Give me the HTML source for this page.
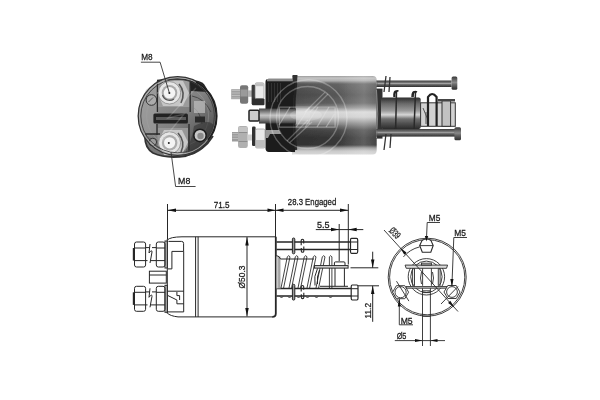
<!DOCTYPE html>
<html><head><meta charset="utf-8">
<style>
html,body{margin:0;padding:0;background:#fff;width:600px;height:400px;overflow:hidden}
svg{display:block;position:absolute;left:0;top:0}
text{font-family:"Liberation Sans",sans-serif;fill:#1a1a1a;stroke:#1a1a1a;stroke-width:1.1}
svg{will-change:transform}
</style></head>
<body>
<svg width="600" height="400" viewBox="0 0 600 400">
<defs>
<marker id="ah" viewBox="0 0 8 3" refX="8" refY="1.5" markerWidth="8" markerHeight="3" markerUnits="userSpaceOnUse" orient="auto-start-reverse"><path d="M0,0 L8,1.5 L0,3 z" fill="#111"/></marker>
</defs>

<!-- ============ PHOTO ============ -->
<defs>
  <linearGradient id="cyl" x1="0" y1="0" x2="0" y2="1">
    <stop offset="0" stop-color="#9a9a9a"/>
    <stop offset="0.027" stop-color="#c4c4c4"/>
    <stop offset="0.059" stop-color="#b0b0b0"/>
    <stop offset="0.103" stop-color="#686868"/>
    <stop offset="0.243" stop-color="#5a5a5a"/>
    <stop offset="0.345" stop-color="#666"/>
    <stop offset="0.408" stop-color="#9a9a9a"/>
    <stop offset="0.459" stop-color="#d8d8d8"/>
    <stop offset="0.523" stop-color="#d0d0d0"/>
    <stop offset="0.612" stop-color="#888"/>
    <stop offset="0.688" stop-color="#4e4e4e"/>
    <stop offset="0.79" stop-color="#3a3a3a"/>
    <stop offset="0.879" stop-color="#3c3c3c"/>
    <stop offset="0.917" stop-color="#9a9a9a"/>
    <stop offset="0.955" stop-color="#cacaca"/>
    <stop offset="1" stop-color="#d8d8d8"/>
  </linearGradient>
  <linearGradient id="cylh" x1="0" y1="0" x2="1" y2="0">
    <stop offset="0" stop-color="#fff" stop-opacity="0"/>
    <stop offset="0.55" stop-color="#fff" stop-opacity="0"/>
    <stop offset="0.85" stop-color="#fff" stop-opacity="0.18"/>
    <stop offset="1" stop-color="#fff" stop-opacity="0.05"/>
  </linearGradient>
  <linearGradient id="plg" x1="0" y1="0" x2="0" y2="1">
    <stop offset="0" stop-color="#2e2e2e"/>
    <stop offset="0.2" stop-color="#6a6a6a"/>
    <stop offset="0.42" stop-color="#9a9a9a"/>
    <stop offset="0.55" stop-color="#d6d6d6"/>
    <stop offset="0.68" stop-color="#707070"/>
    <stop offset="1" stop-color="#2a2a2a"/>
  </linearGradient>
  <linearGradient id="bolt" x1="0" y1="0" x2="0" y2="1">
    <stop offset="0" stop-color="#3a3a3a"/>
    <stop offset="0.45" stop-color="#8a8a8a"/>
    <stop offset="0.6" stop-color="#6a6a6a"/>
    <stop offset="1" stop-color="#2e2e2e"/>
  </linearGradient>
  <linearGradient id="stud" x1="0" y1="0" x2="0" y2="1">
    <stop offset="0" stop-color="#444"/>
    <stop offset="0.45" stop-color="#c4c4c4"/>
    <stop offset="0.6" stop-color="#aaa"/>
    <stop offset="1" stop-color="#3a3a3a"/>
  </linearGradient>
  <linearGradient id="endg" x1="0.15" y1="0.2" x2="0.85" y2="0.9">
    <stop offset="0" stop-color="#959595"/>
    <stop offset="0.5" stop-color="#808080"/>
    <stop offset="1" stop-color="#4e4e4e"/>
  </linearGradient>
  <linearGradient id="shl" x1="0" y1="0" x2="1" y2="0">
    <stop offset="0" stop-color="#000" stop-opacity="0.2"/>
    <stop offset="0.5" stop-color="#000" stop-opacity="0.1"/>
    <stop offset="1" stop-color="#000" stop-opacity="0"/>
  </linearGradient>
  <filter id="soft" x="-5%" y="-5%" width="110%" height="110%"><feGaussianBlur stdDeviation="0.4"/></filter>
</defs>
<g filter="url(#soft)">
<g id="endview">
  <circle cx="177.6" cy="116" r="39.2" fill="url(#endg)"/>
  <circle cx="177.6" cy="116" r="31" fill="none" stroke="#aaa" stroke-width="0.9" opacity="0.4"/>
  <!-- terminal plates -->
  <path d="M157.4,81 L146,90 Q139,102 139.5,118 Q140,128 145,136 L157.4,134 z" fill="#a0a0a0" opacity="0.55"/>
  <path d="M158,81 Q174,78.5 189.5,81 V107 H158z" fill="#9c9c9c"/>
  <path d="M157.5,128 H188 V154 Q174,157 157.5,154z" fill="#979797"/>
  <!-- housing verticals -->
  <path d="M157.4,81 V112 M157,124 V135 M145,134 H160 M190.2,81 V112 M189,124 V150" fill="none" stroke="#2a2a2a" stroke-width="1.3"/>
  <path d="M157,80.5 Q176,77.5 191,80.5" fill="none" stroke="#2a2a2a" stroke-width="1.6"/>
  <!-- top right dark patch -->
  <path d="M190,81 Q199,79 204,84 Q207,88 208,92 L191,91 z" fill="#222"/>
  <!-- right side details -->
  <path d="M192,96 Q204,98 211,112 M194,108 Q200,112 202,124" fill="none" stroke="#4a4a4a" stroke-width="1"/>
  <rect x="194" y="101" width="11" height="12" fill="#c0c0c0" opacity="0.7"/>
  <rect x="195" y="116.5" width="10" height="6" fill="#2a2a2a"/>
  <!-- slot -->
  <rect x="153.4" y="113.5" width="34.5" height="10" rx="1.5" fill="#222"/>
  <rect x="156" y="117" width="30" height="3" fill="#5a5a5a"/>
  <!-- dark bottom-right region -->
  <path d="M184,152 Q192,142 194,126 Q210,118 214,126 Q212,142 200,151 Q192,156 184,156z" fill="#2e2e2e" opacity="0.55"/>
  <!-- upper washer -->
  <path d="M163,81 H183 L189,93 L183,106 H163 L157.5,93z" fill="#c6c6c6"/>
  <path d="M179,84 Q186,92 181,103" fill="none" stroke="#555" stroke-width="1.6"/>
  <circle cx="169.5" cy="92.8" r="11.2" fill="#e6e6e6" stroke="#888" stroke-width="0.8"/>
  <circle cx="169.5" cy="92.8" r="7.8" fill="#a8a8a8"/>
  <path d="M162.5,95 A7.5,7.5 0 0 0 174,99" fill="none" stroke="#555" stroke-width="1.2"/>
  <circle cx="169.5" cy="92.8" r="5.8" fill="#f4f4f4"/>
  <circle cx="169.4" cy="93.1" r="1" fill="#222"/>
  <!-- lower washer -->
  <path d="M145,135 Q144,148 153,153 Q166,159 186,156 L186,150 L152,138z" fill="#777"/>
  <path d="M164,130 H182 L188,142 L182,155 H164 L158,142z" fill="#c8c8c8"/>
  <path d="M178,133 Q186,142 181,152" fill="none" stroke="#555" stroke-width="1.6"/>
  <circle cx="169.6" cy="142.8" r="11" fill="#e4e4e4" stroke="#888" stroke-width="0.8"/>
  <circle cx="169.6" cy="142.8" r="7.8" fill="#acacac"/>
  <circle cx="169.6" cy="142.8" r="5.6" fill="#f4f4f4"/>
  <circle cx="168.8" cy="143" r="1" fill="#222"/>
  <!-- small screws -->
  <circle cx="151.4" cy="100" r="5.3" fill="#ababab" stroke="#333" stroke-width="1"/>
  <path d="M148.5,102 L153,97.5" stroke="#5a5a5a" stroke-width="1"/>
  <circle cx="200" cy="135.4" r="6.2" fill="#c8c8c8" stroke="#1e1e1e" stroke-width="1.6"/>
  <circle cx="200.5" cy="136" r="3.2" fill="#8a8a8a"/>
  <circle cx="152.8" cy="142" r="3.8" fill="#9c9c9c" stroke="#2a2a2a" stroke-width="0.9"/>
  <!-- bottom bracket rim -->
  <path d="M145,137 Q145,148 153,153 Q166,159 186,156 Q204,151 213,136" fill="none" stroke="#333" stroke-width="1.8"/>
  <!-- rim -->
  <circle cx="177.6" cy="116" r="38.6" fill="none" stroke="#b8b8b8" stroke-width="1.6" opacity="0.8"/>
  <circle cx="177.6" cy="116" r="36.8" fill="none" stroke="#3a3a3a" stroke-width="1" opacity="0.85"/>
  <circle cx="177.6" cy="116" r="39.4" fill="none" stroke="#333" stroke-width="1.3"/>
  <path d="M196,82 A39,39 0 0 1 208,140" fill="none" stroke="#1e1e1e" stroke-width="1.6"/>
</g>
<g id="sideview">
  <!-- cylinder -->
  <path d="M292,75.9 H372.5 Q376.7,75.9 376.7,80 V150 Q376.7,154.5 372.5,154.5 H292 z" fill="url(#cyl)"/>
  <path d="M292,75.9 H372.5 Q376.7,75.9 376.7,80 V150 Q376.7,154.5 372.5,154.5 H292 z" fill="url(#cylh)"/>
  <!-- black cap -->
  <path d="M269,78.8 H295 V152 H269 Q265.5,152 265.5,148 V82 Q265.5,78.8 269,78.8z" fill="#1a1a1a"/>
  <rect x="267" y="79" width="27" height="2.3" fill="#8a8a8a"/>
  <path d="M268.5,83 V102 M271.5,83 V102 M274.5,83 V102 M277.5,83 V102 M280.5,83 V102" stroke="#333" stroke-width="1"/>
  <path d="M292.5,75 L297.5,75 L297,83 L293,83z" fill="#333"/>
  <path d="M296,83 Q292,115 296,150" fill="none" stroke="#2a2a2a" stroke-width="2.5"/>
  <!-- dark shading on left of cylinder -->
  <rect x="294" y="82" width="55" height="26" fill="url(#shl)"/>
  <rect x="294" y="125" width="55" height="22" fill="url(#shl)"/>
  <!-- upper terminal -->
  <rect x="231.2" y="89.2" width="9" height="10" fill="#a0a0a0"/>
  <path d="M231.5,90.5 H240 M231.5,93 H240 M231.5,95.5 H240 M231.5,98 H240" stroke="#c4c4c4" stroke-width="0.8"/>
  <rect x="240" y="85.2" width="8.2" height="18.6" rx="2" fill="#777"/>
  <rect x="240.5" y="89.5" width="7.2" height="7" fill="#9a9a9a"/>
  <rect x="248" y="90.4" width="4" height="6.4" fill="#b4b4b4"/>
  <rect x="251.6" y="84.8" width="3.6" height="19.6" rx="1.2" fill="#3a3a3a"/>
  <rect x="255.2" y="82.8" width="8.8" height="15.8" rx="1.5" fill="#eaeaea" stroke="#9a9a9a" stroke-width="0.7"/>
  <rect x="255.5" y="83.2" width="8.2" height="3" fill="#c0c0c0"/>
  <rect x="252" y="98.4" width="12.5" height="6.8" rx="1" fill="#2e2e2e"/>
  <!-- middle stud -->
  <rect x="259" y="108.5" width="37" height="15" fill="url(#stud)"/>
  <rect x="249" y="110.2" width="10" height="10.8" rx="1" fill="#cdcdcd" stroke="#222" stroke-width="1.5"/>
  <rect x="296" y="108" width="14" height="16" fill="#e0e0e0" opacity="0.3"/>
  <path d="M266,130 H279 L281,134 H270 L268,138 H266z" fill="#9a9a9a"/>
  <!-- lower terminal -->
  <rect x="232" y="132" width="6.2" height="9.5" fill="#9c9c9c"/>
  <path d="M232.3,133.5 H238 M232.3,136 H238 M232.3,138.5 H238" stroke="#c0c0c0" stroke-width="0.8"/>
  <rect x="238" y="126" width="9.8" height="22" rx="2.2" fill="#b0b0b0"/>
  <path d="M238.5,132.5 H247.3 M238.5,141.5 H247.3" stroke="#8a8a8a" stroke-width="0.9"/>
  <rect x="238.5" y="127" width="8.8" height="5" fill="#c4c4c4"/>
  <rect x="247.5" y="134.5" width="4.5" height="6" fill="#cfcfcf"/>
  <rect x="252" y="126.5" width="3.6" height="19.5" rx="1.2" fill="#333"/>
  <rect x="255.5" y="129" width="9.5" height="19" rx="1.5" fill="#e8e8e8" stroke="#999" stroke-width="0.7"/>
  <rect x="255.8" y="140" width="9" height="7.6" fill="#bdbdbd"/>
  <!-- end flange -->
  <rect x="376.5" y="88.6" width="6" height="50" fill="#333"/>
  <!-- plunger -->
  <rect x="381" y="97.5" width="39.7" height="31.5" rx="2" fill="url(#plg)"/>
  <path d="M394,97 Q393.5,90.5 396.5,91.5 L395.5,136 M412,97 Q412,90.5 415.5,92 L414,130" fill="none" stroke="#2a2a2a" stroke-width="1.5"/>
  <path d="M376.5,90 Q379,114 376.5,138" fill="none" stroke="#888" stroke-width="1"/>
  <!-- bolts -->
  <rect x="376.4" y="80.5" width="75.2" height="6.5" fill="url(#bolt)"/>
  <line x1="378" y1="83.6" x2="451" y2="83.6" stroke="#a8a8a8" stroke-width="0.9"/>
  <rect x="451.6" y="76.6" width="5.7" height="13.1" rx="1.5" fill="url(#bolt)"/>
  <!-- bracket -->
  <rect x="420.6" y="102.8" width="34.7" height="23.5" fill="#d2d2d2" stroke="#333" stroke-width="1"/>
  <rect x="442" y="99.5" width="8.6" height="26.8" fill="#c2c2c2" stroke="#333" stroke-width="1"/>
  <rect x="438" y="99" width="17" height="2.5" fill="#444"/>
  <path d="M423,108 L428,120 M426,112 V124" stroke="#555" stroke-width="1"/>
  <path d="M428,126 V97 Q432,91 436.6,97 V126" fill="none" stroke="#222" stroke-width="2.2"/>
  <path d="M394.75,97 Q394,90 398.5,91 M413,97 Q413,90 417,92" fill="none" stroke="#222" stroke-width="1.6"/>
  <rect x="376.4" y="129" width="78.6" height="7.6" fill="url(#bolt)"/>
  <line x1="378" y1="132.6" x2="454" y2="132.6" stroke="#a0a0a0" stroke-width="0.9"/>
  <rect x="454.4" y="127.2" width="6.6" height="13.1" rx="1.5" fill="url(#bolt)"/>
  <path d="M386,76 L384,92 M390,77 L389,92 M386,134 L384,150 M391,134 L390,148" stroke="#333" stroke-width="1.3"/>
</g>
<!-- watermark -->
<ellipse cx="306" cy="115" rx="16" ry="6" fill="#fff" opacity="0.18"/>
<g fill="none" stroke="#e8e8e8" stroke-opacity="0.4" stroke-width="1.3">
  <path d="M279.3,107.2 H335.1 V127.2 H279.3z"/>
  <path d="M279,125 L290,107 M296.3,127 L309.5,107 M305.3,127 L318,107 M317,127 L329,107 M326.1,127 L334.5,114"/>
</g>
<g fill="none" stroke="#fff" stroke-opacity="0.28" stroke-width="1.4">
  <circle cx="308.5" cy="118.3" r="38.5"/>
  <circle cx="307.5" cy="117.5" r="31"/>
  <path d="M324.8,92.4 L305,112 M328,94 L310,112 M312,122 L289.6,142.8 M308,120 L287,141" stroke-width="1.3"/>
  <path d="M196,88 L168,118 L184,114 L158,146" stroke-width="1.3" stroke-opacity="0.18"/>
</g>
</g>
<!-- ============ DIAGRAM ============ -->
<g fill="none" stroke="#262626" stroke-width="1">
  <!-- 71.5 / 28.3 dims -->
  <line x1="167.5" y1="204" x2="167.5" y2="239"/>
  <line x1="275.5" y1="204" x2="275.5" y2="237"/>
  <line x1="348.3" y1="204" x2="348.3" y2="264.5"/>
  <line x1="167.5" y1="210.3" x2="348.3" y2="210.3"/>
  <!-- 5.5 -->
  <line x1="339.2" y1="224" x2="339.2" y2="261"/>
  <line x1="315.8" y1="229.6" x2="363.3" y2="229.6"/>
  <!-- body -->
  <path d="M167.3,240 Q170,237 182,236.8 H275.5"/>
  <path d="M167.3,313 Q170,316 178,316.9 H273"/>
  <line x1="167.3" y1="239" x2="167.3" y2="313.5"/>
  <line x1="195.6" y1="236.8" x2="195.6" y2="316.9"/>
  <line x1="198.1" y1="236.8" x2="198.1" y2="316.9"/>
  <path d="M168.5,241.4 H181.5 Q183.6,241.4 183.6,243.4 V251.4 H171.9 V268.9 H168"/>
  <line x1="183.7" y1="251.4" x2="183.7" y2="311.9"/>
  <line x1="167.3" y1="291.2" x2="183.7" y2="291.2"/>
  <path d="M168,295.6 L176.9,300 V303.8 H183.7"/>
  <path d="M176.9,292 V295.6 H179.6 V300"/>
  <line x1="167.3" y1="311.9" x2="183.7" y2="311.9"/>
  <!-- right thick edge -->
  <path d="M275.8,236.8 V313.5 Q275.8,316.9 272.4,316.9" stroke-width="1.8"/>
  <!-- Ø50.3 -->
  <line x1="247" y1="237" x2="247" y2="316.5"/>
  <!-- left terminals -->
  <g id="term">
    <path d="M136.5,242 H143.5 Q145.6,242 145.6,244 V265 Q145.6,267 143.5,267 H136.5 Q134.5,267 134.5,265 V244 Q134.5,242 136.5,242 z"/>
    <path d="M134.5,248 H145.6 M134.5,260.6 H145.6"/>
    <line x1="133.6" y1="248" x2="133.6" y2="260.6" stroke-width="1.6"/>
    <path d="M145.6,247.6 H149.5 M152,247.6 H156.2 M145.6,260.6 H147.5 M150.5,260.6 H156.2"/>
    <path d="M150,244 L149,253 M152,252 L150,263 M149,253 Q152,249 152,252"/>
    <path d="M158.3,242 H163 Q165,242 165,244 V265 Q165,267 163,267 H158.3 Q156.3,267 156.3,265 V244 Q156.3,242 158.3,242 z"/>
    <path d="M156.3,248 H165 M156.3,260.6 H165"/>
    <rect x="165" y="241" width="2.2" height="27"/>
  </g>
  <use href="#term" transform="translate(0,44.3)"/>
  <rect x="149.4" y="271.2" width="16.9" height="11.9"/>
  <line x1="149.4" y1="275" x2="166.3" y2="275"/>
  <!-- upper bolt -->
  <path d="M276.5,242 H350.5 M276.5,249.5 H350.5" stroke-width="1.3"/>
  <path d="M351.5,238.3 H356.5 Q357.7,238.3 357.7,240 V251.5 Q357.7,253.3 356.5,253.3 H351.5 Q350.5,253.3 350.5,251.5 V240 Q350.5,238.3 351.5,238.3 z" stroke-width="1.2"/>
  <path d="M350.5,242 H357.7 M350.5,249.5 H357.7"/>
  <rect x="292.4" y="238" width="2.4" height="15.8" rx="1.1" fill="#999"/>
  <path d="M301.2,245.2 V240.2 Q301.2,239.2 302.4,239.2 Q303.7,239.2 303.7,240.2 V243.5 M303.8,246.5 V251.3 Q303.8,252.3 302.6,252.3 Q301.3,252.3 301.3,251.3 V248" stroke-width="1.1"/>
  <!-- lower bolt -->
  <path d="M276.5,288.5 H351.2 M276.5,296 H351.2" stroke-width="1.3"/>
  <path d="M352.3,285 H356.9 Q358,285 358,286.7 V298.3 Q358,300 356.9,300 H352.3 Q351.2,300 351.2,298.3 V286.7 Q351.2,285 352.3,285 z" stroke-width="1.2"/>
  <path d="M351.2,288.7 H358 M351.2,296 H358"/>
  <rect x="292.4" y="284.3" width="2.4" height="15.8" rx="1.1" fill="#999"/>
  <path d="M301.2,291.5 V286.5 Q301.2,285.5 302.4,285.5 Q303.7,285.5 303.7,286.5 V289.8 M303.8,292.8 V297.6 Q303.8,298.6 302.6,298.6 Q301.3,298.6 301.3,297.6 V294.3" stroke-width="1.1"/>
  <!-- plunger -->
  <defs><linearGradient id="plb" x1="0" y1="0" x2="1" y2="0"><stop offset="0" stop-color="#e6e6e6"/><stop offset="0.6" stop-color="#9a9a9a"/><stop offset="1" stop-color="#bbb"/></linearGradient></defs>
  <rect x="276.6" y="256.5" width="4" height="32" fill="url(#plb)" stroke="none"/>
  <path d="M276.5,255.6 Q279.5,256 280.5,259 H314"/>
  <!-- springs -->
  <g stroke-width="0.85" stroke="#222">
    <path d="M287.3,256.8 Q288.6,254.6 290,256.8 L283.6,288 M287.3,256.8 L281,288"/>
    <path d="M295.3,256.8 Q296.6,254.6 298,256.8 L291.6,288 M295.3,256.8 L289,288"/>
    <path d="M304.3,256.8 Q305.6,254.6 307,256.8 L300.6,288 M304.3,256.8 L298,288"/>
    <path d="M313.3,256.8 Q314.6,254.6 316,256.8 L309.6,288 M313.3,256.8 L307,288"/>
    <path d="M322.3,256.8 Q323.6,254.6 325,256.8 L318.6,288 M322.3,256.8 L316,288"/>
    <path d="M329.4,256.8 Q330.6,254.6 331.9,256.8 V288 M329.4,256.8 V288"/>
    <path d="M280,296.5 Q281.5,299.5 283,296.5 M288,296.5 Q289.5,299.5 291,296.5 M297,296.5 Q298.5,299.5 300,296.5 M306,296.5 Q307.5,299.5 309,296.5 M315,296.5 Q316.5,299.5 318,296.5 M329,296.5 Q330.5,299.5 332,296.5"/>
  </g>
  <!-- bracket -->
  <rect x="314.4" y="265.6" width="33.7" height="2.5" fill="#ddd"/>
  <path d="M334.4,265.6 V263 Q334.4,261.9 335.5,261.9 H344 Q345,261.9 345,263 V265.6"/>
  <path d="M335,268.1 V286.3 M344.4,268.1 V286.3 M320,286.3 H348"/>
  <path d="M317.5,268.5 Q313.5,276 315,285.5 M319.5,270 Q316.5,277 317.5,284"/>
  <!-- 11.2 -->
  <path d="M350.5,267.8 H378.3 M358,285.8 H379"/>
  <line x1="372.7" y1="251.7" x2="372.7" y2="267.8"/>
  <line x1="372.7" y1="285.8" x2="372.7" y2="321.8"/>
</g>
<!-- arrowheads -->
<g fill="#111">
  <path d="M167.5,210.3 L176,208.55 L176,212.05 z"/>
  <path d="M275.5,210.3 L267.5,208.55 L267.5,212.05 z"/>
  <path d="M275.5,210.3 L283.5,208.55 L283.5,212.05 z"/>
  <path d="M348.3,210.3 L340,208.55 L340,212.05 z"/>
  <path d="M339.2,229.6 L331,227.85 L331,231.35 z"/>
  <path d="M348.3,229.6 L356.7,227.85 L356.7,231.35 z"/>
  <path d="M247,237.2 L245.25,245.5 L248.75,245.5 z"/>
  <path d="M247,316.3 L245.25,308 L248.75,308 z"/>
  <path d="M372.7,267.8 L370.95,259.5 L374.45,259.5 z"/>
  <path d="M372.7,285.8 L370.95,294 L374.45,294 z"/>
</g>
<!-- diagram texts -->
<!-- end view diagram -->
<g fill="none" stroke="#2a2a2a" stroke-width="0.9">
  <circle cx="427.2" cy="277.2" r="39"/>
  <circle cx="427.2" cy="277.2" r="37.6"/>
  <!-- inner arc top-left -->
  <path d="M403.4,256.9 A31,31 0 0 1 419.6,246.9"/>
  
  <!-- inner circles -->
  <circle cx="426.4" cy="276.8" r="18.2"/>
  <circle cx="426.4" cy="276.8" r="15.7"/>
  <!-- bars -->
  <path d="M405.1,265.1 H447.6 L446.5,268.3 H406.2 z" fill="#ddd"/>
  <path d="M406,286.6 H448.5 V288.2 H406 z" fill="#ddd"/>
  <rect x="421.4" y="263.2" width="10" height="1.9"/>
  <path d="M412.6,268.3 V285.8 M414.5,268.3 V285.8 M422.6,268.3 V285.8 M431.4,268.3 V285.8 M438.3,268.3 V285.8 M440.1,268.3 V285.8"/>
  <path d="M421.5,272 Q419.5,278 421.5,284 M432.5,272 Q434.5,278 432.5,284"/>
  <!-- shaft -->
  <path d="M422.5,288.3 V346 M430.4,288.3 V346 M422.5,290.8 H430.4 M422.5,292.6 H430.4 M422.5,316.3 H430.4"/>
  <!-- top hole -->
  <path d="M419.7,245.5 L422,240.5 Q426.5,237.5 431,240.5 L433.2,245.5 L430.8,252.3 H422.3 z" fill="#fff" stroke-width="1.1"/>
  <line x1="419.7" y1="245.6" x2="433" y2="245.6"/>
  <!-- side holes -->
  <path d="M392.6,292.2 L396.4,285.7 H404.8 L408.6,292.2 L404.8,298.7 H396.4 z" fill="#fff"/>
  <circle cx="400.6" cy="292.2" r="5.6"/>
  <path d="M444,292 L447.8,285.5 H456.2 L460,292 L456.2,298.5 H447.8 z" fill="#fff"/>
  <circle cx="452" cy="292" r="5.4"/>
  <path d="M396.5,281.2 L408.9,301.1 M441,304 L458,286.5"/>
  <!-- Ø39 line -->
  <line x1="384" y1="230" x2="458" y2="311.5"/>
  <!-- leaders -->
  <path d="M440,222.5 H427.2 L426.5,238"/>
  <path d="M467,237.5 H453.8 L451.9,286"/>
  <path d="M413,324.8 H399.3 V299"/>
  <line x1="394.8" y1="340.6" x2="445" y2="340.6"/>
</g>
<g fill="#111">
  <path d="M426.5,241.5 L424.8,236 L428.2,236 z"/>
  <path d="M451.9,286.5 L450.3,279 L453.5,279 z"/>
  <path d="M399.3,298.8 L397.8,306.5 L400.8,306.5 z"/>
  <path d="M422.5,340.6 L415,339.1 L415,342.1 z"/>
  <path d="M430.4,340.6 L437.5,339.1 L437.5,342.1 z"/>
  <path d="M400.3,248 L406.5,252.6 L404.3,254.7 z"/>
  <path d="M454.3,307.5 L448.1,302.9 L450.3,300.8 z"/>
</g>
<!-- M8 labels -->
<g fill="none" stroke="#333" stroke-width="0.9">
  <path d="M140.9,62.2 H160.1 L169.4,93"/>
  <path d="M195.6,186.5 H175.6 L171,152"/>
</g>
<g class="tx" stroke-width="1.1">
<text x="100" y="200" font-size="40" transform="matrix(0.2059,0,0,0.2350,120.69,12.80)">M8</text>
<text x="100" y="200" font-size="40" transform="matrix(0.2206,0,0,0.2350,156.03,137.00)">M8</text>
<text x="100" y="200" font-size="40" transform="matrix(0.2027,0,0,0.2350,193.52,161.30)">71.5</text>
<text x="100" y="200" font-size="40" transform="matrix(0.1947,0,0,0.2350,268.34,158.10)">28.3 Engaged</text>
<text x="100" y="200" font-size="40" transform="matrix(0.2250,0,0,0.2350,294.55,181.00)">5.5</text>
<text x="100" y="200" font-size="40" transform="matrix(0.2078,0,0,0.2350,407.99,173.60)">M5</text>
<text x="100" y="200" font-size="40" transform="matrix(0.2108,0,0,0.2350,433.29,188.75)">M5</text>
<text x="100" y="200" font-size="40" transform="matrix(0.2157,0,0,0.2350,379.08,276.80)">M5</text>
<text x="100" y="200" font-size="40" transform="matrix(0.1837,0,0,0.2350,378.27,292.00)">Ø5</text>
<text x="100" y="200" font-size="40" transform="translate(245,288) rotate(-90) matrix(0.2095,0,0,0.235,-21.37,-47)">Ø50.3</text>
<text x="100" y="200" font-size="40" transform="translate(371.25,317.9) rotate(-90) matrix(0.2086,0,0,0.235,-21.49,-47)">11.2</text>
<text x="100" y="200" font-size="40" transform="translate(388.6,231.75) rotate(45) matrix(0.15,0,0,0.25,-15.3,-50.25)">Ø39</text>
</g>
</svg>
</body></html>
